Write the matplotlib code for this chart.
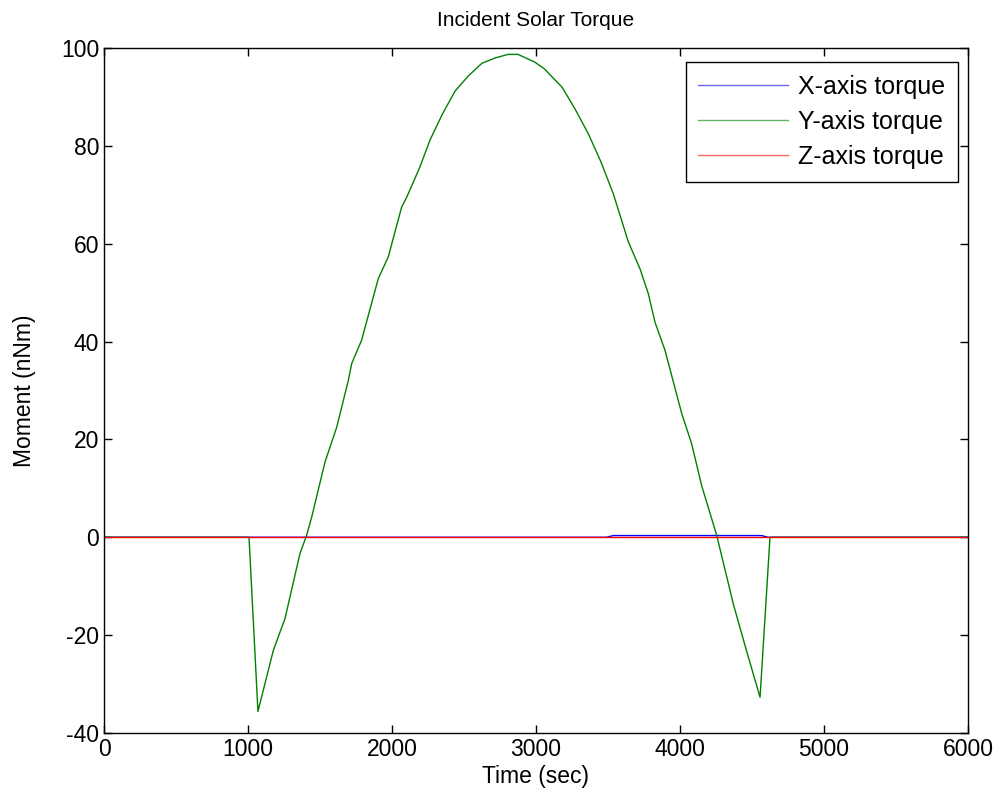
import matplotlib.pyplot as plt

plt.rcParams['font.family'] = ['Liberation Sans', 'DejaVu Sans']
plt.rcParams['axes.unicode_minus'] = False

# Y-axis torque vertices (time in sec, moment in nNm)
y_time = [0, 1007, 1069, 1176, 1257, 1361, 1407, 1442, 1535, 1616, 1697, 1720,
          1789, 1905, 1974, 2067, 2102, 2194, 2264, 2350, 2438, 2530, 2625,
          2720, 2806, 2875, 2993, 3056, 3181, 3270, 3363, 3450, 3537, 3641,
          3722, 3780, 3826, 3896, 4012, 4081, 4150, 4255, 4370, 4460, 4556,
          4625, 6000]
y_torque = [0, 0, -35.6, -23.1, -16.6, -3.3, 0.4, 4.1, 15.4, 22.5, 32.1, 35.5,
            40.3, 52.9, 57.3, 67.5, 69.5, 75.7, 81.2, 86.5, 91.2, 94.3, 96.9,
            98.0, 98.7, 98.7, 97.1, 95.8, 92.0, 87.6, 82.5, 76.8, 70.2, 60.4,
            54.9, 49.8, 44.0, 38.2, 25.3, 19.1, 10.6, 0.4, -13.6, -23.0, -32.7,
            0, 0]

# X-axis torque: small plateau between ~3500 and ~4600 sec
x_time = [0, 3490, 3537, 4567, 4611, 6000]
x_torque = [0, 0, 0.35, 0.35, 0, 0]

# Z-axis torque stays at zero
z_time = [0, 6000]
z_torque = [0, 0]

fig = plt.figure(figsize=(10.06, 8.10), dpi=100)
ax = fig.add_axes([0.1034, 0.0951, 0.8588, 0.8456])

ax.plot(x_time, x_torque, color='#0000ff', lw=1.0, label='X-axis torque')
ax.plot(y_time, y_torque, color='#008000', lw=1.0, label='Y-axis torque')
ax.plot(z_time, z_torque, color='#ff0000', lw=1.0, label='Z-axis torque')

ax.set_xlim(0, 6000)
ax.set_ylim(-40, 100)
ax.set_xticks(range(0, 6001, 1000))
ax.set_yticks(range(-40, 101, 20))
ax.tick_params(direction='in', top=True, right=True, labelsize=16.5, length=6, width=1)
for s in ax.spines.values():
    s.set_linewidth(1.0)

ax.set_xlabel('Time (sec)', fontsize=16.5, labelpad=3)
ax.set_ylabel('Moment (nNm)', fontsize=16.5, labelpad=18)
ax.set_title('Incident Solar Torque', fontsize=15, pad=16)

leg = ax.legend(loc='upper right', bbox_to_anchor=(0.9884, 0.9796), fontsize=18,
                fancybox=False, framealpha=1, edgecolor='black',
                handlelength=3.6, handletextpad=0.4, borderaxespad=0,
                labelspacing=0.45, borderpad=0.5)
leg.get_frame().set_linewidth(1.0)
for h in leg.get_lines():
    h.set_alpha(0.6)

fig.savefig('out.png', dpi=100)
